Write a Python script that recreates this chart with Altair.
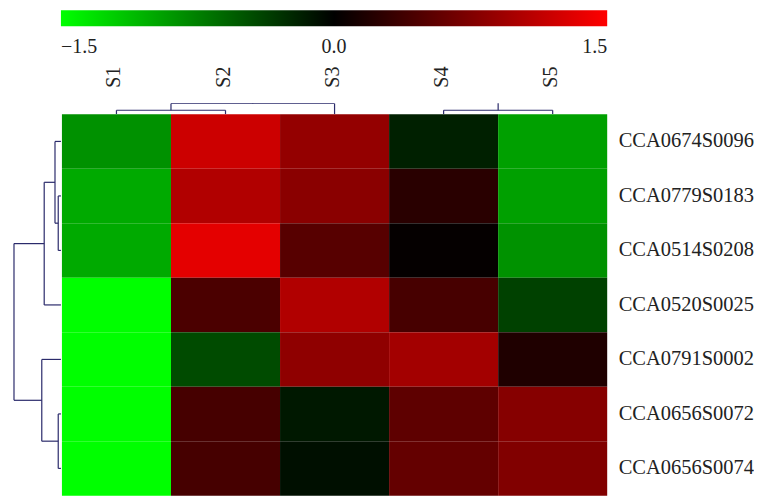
import altair as alt
import pandas as pd

samples = ["S1", "S2", "S3", "S4", "S5"]
genes = ["CCA0674S0096", "CCA0779S0183", "CCA0514S0208", "CCA0520S0025",
         "CCA0791S0002", "CCA0656S0072", "CCA0656S0074"]
values = [
    [-0.85, 1.20, 0.87, -0.19, -0.94],
    [-1.00, 1.04, 0.81, 0.24, -0.94],
    [-1.00, 1.34, 0.51, 0.03, -0.86],
    [-1.50, 0.44, 1.04, 0.42, -0.38],
    [-1.50, -0.44, 0.84, 0.96, 0.18],
    [-1.50, 0.41, -0.14, 0.55, 0.79],
    [-1.50, 0.41, -0.09, 0.59, 0.76],
]
color_ticks = [-1.5, 0.0, 1.5]

# row dendrogram merges: (child a, child b, height); leaves are row indices
row_links = [(1, 2, 1.0), (5, 6, 1.0), (0, 7, 2.2), (9, 3, 6.2), (4, 8, 7.1), (10, 11, 17.4)]
# column dendrogram merges (tree is cut at the top of its panel)
col_links = [(0, 1, 1.0), (3, 4, 1.0), (5, 2, 2.75), (7, 6, 3.5)]


def segments(links, n_leaves):
    pos = {i: i + 0.5 for i in range(n_leaves)}
    hgt = {i: 0.0 for i in range(n_leaves)}
    segs = []
    node = n_leaves
    for a, b, h in links:
        segs.append({"p1": pos[a], "p2": pos[b], "h1": h, "h2": h})
        segs.append({"p1": pos[a], "p2": pos[a], "h1": hgt[a], "h2": h})
        segs.append({"p1": pos[b], "p2": pos[b], "h1": hgt[b], "h2": h})
        pos[node] = (pos[a] + pos[b]) / 2
        hgt[node] = h
        node += 1
    return pd.DataFrame(segs)


SERIF = "'Liberation Serif', 'Times New Roman', Times, serif"
LINE = "#2b2b6b"

cells = pd.DataFrame([
    {"gene": g, "sample": s, "value": values[i][j]}
    for i, g in enumerate(genes) for j, s in enumerate(samples)
])

heat = alt.Chart(cells).mark_rect().encode(
    x=alt.X("sample:N", sort=samples, axis=None,
            scale=alt.Scale(paddingInner=0, paddingOuter=0)),
    y=alt.Y("gene:N", sort=genes,
            scale=alt.Scale(paddingInner=0, paddingOuter=0),
            axis=alt.Axis(orient="right", title=None, ticks=False, domain=False,
                          labelPadding=11, labelFont=SERIF, labelFontSize=20.5,
                          labelColor="#222222")),
    color=alt.Color("value:Q",
                    scale=alt.Scale(domain=[-1.5, 0, 1.5],
                                    range=["#00ff00", "#000000", "#ff0000"],
                                    interpolate="rgb", clamp=True),
                    legend=alt.Legend(orient="none", legendX=47, legendY=-93,
                                      direction="horizontal", title=None,
                                      gradientLength=547, gradientThickness=16,
                                      gradientStrokeWidth=0,
                                      values=color_ticks, format=".1f",
                                      labelFont=SERIF, labelFontSize=20,
                                      labelColor="#222222", labelOffset=11)),
).properties(width=546, height=382)

row_df = segments(row_links, len(genes))
left = alt.Chart(row_df).mark_rule(color=LINE, strokeWidth=1.2).encode(
    x=alt.X("h1:Q", scale=alt.Scale(domain=[17.4, 0]), axis=None),
    x2="h2:Q",
    y=alt.Y("p1:Q", scale=alt.Scale(domain=[0, 7], reverse=True), axis=None),
    y2="p2:Q",
).properties(width=47, height=382)

col_df = segments(col_links, len(samples))
label_expr = str(samples) + "[floor(datum.value)]"
top = alt.Chart(col_df).mark_rule(color=LINE, strokeWidth=1.2, clip=True).encode(
    x=alt.X("p1:Q", scale=alt.Scale(domain=[0, 5]),
            axis=alt.Axis(orient="top", values=[i + 0.5 for i in range(len(samples))],
                          labelExpr=label_expr, labelAngle=270, title=None,
                          ticks=False, domain=False, grid=False, labelFlush=False,
                          labelOverlap=False, labelPadding=16, labelOffset=-2.5,
                          labelFont=SERIF, labelFontSize=20, labelColor="#222222")),
    x2="p2:Q",
    y=alt.Y("h1:Q", scale=alt.Scale(domain=[0, 2.8]), axis=None),
    y2="h2:Q",
).properties(width=546, height=11)

spacer = alt.Chart(pd.DataFrame({"v": [0]})).mark_rule(opacity=0).encode(
    y=alt.value(0)
).properties(width=47, height=11)

chart = alt.concat(spacer, top, left, heat, columns=2, spacing=0).resolve_scale(
    x="independent", y="independent"
).properties(
    padding={"left": 5, "top": 2, "right": 0, "bottom": 0}
).configure_view(strokeWidth=0)

chart.save("out.html", embed_options={"renderer": "svg", "actions": False})
